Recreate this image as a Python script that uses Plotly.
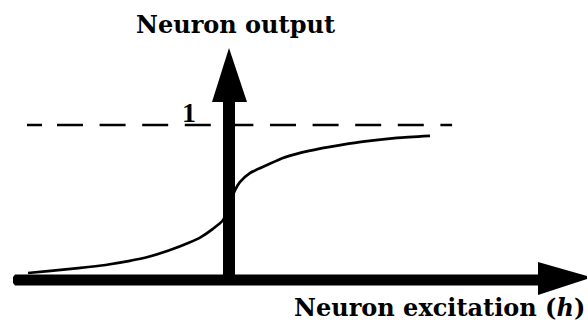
import plotly.graph_objects as go

# ---- data (h = neuron excitation, output = neuron output) ----
h_curve = [-5.0, -4.5, -4.0, -3.5, -3.0, -2.5, -2.0, -1.5, -1.0, -0.7, -0.4, -0.15,
           0.0, 0.15, 0.27, 0.52, 0.95, 1.34, 1.77, 2.26, 2.8, 3.33, 4.18, 5.0]
out_curve = [0.045, 0.057, 0.07, 0.084, 0.1, 0.122, 0.15, 0.19, 0.24, 0.277, 0.33, 0.385,
             0.48, 0.58, 0.632, 0.69, 0.742, 0.787, 0.82, 0.848, 0.872, 0.893, 0.917, 0.93]
saturation_level = [1, 1]
saturation_h = [-5.025, 5.55]
x_label = "Neuron excitation (<i>h</i>)"
y_label = "Neuron output"
level_label = "1"

W, H = 588, 329
# pixel <-> data mapping helpers (layout geometry)
X0, SX = 229.0, 40.2      # px of h=0, px per unit h
Y0, SY = 280.0, 155.0     # px of output=0, px per unit output


def hx(px):
    return (px - X0) / SX


def oy(py):
    return (Y0 - py) / SY


fig = go.Figure()

dash = "15px,15px" + ",26px,16.6px" * 10
fig.add_trace(go.Scatter(x=saturation_h, y=saturation_level, mode="lines",
                         line=dict(color="black", width=2.6, dash=dash),
                         hoverinfo="skip"))
fig.add_trace(go.Scatter(x=h_curve, y=out_curve, mode="lines",
                         line=dict(color="black", width=2.7, shape="spline", smoothing=0.6),
                         hoverinfo="skip"))


def path(pts):
    return "M " + " L ".join(f"{hx(a)},{oy(b)}" for a, b in pts) + " Z"


shapes = [
    # horizontal axis bar
    dict(type="path", path=path([(13, 277), (15, 274.5), (540, 274.5), (540, 285.5), (15, 285.5), (13, 283)]),
         fillcolor="black", line=dict(width=0)),
    # horizontal arrow head
    dict(type="path", path=path([(538, 262), (587, 276), (587, 279), (538, 295)]),
         fillcolor="black", line=dict(width=0)),
    # vertical axis shaft
    dict(type="path", path=path([(223, 100), (235, 100), (235, 282), (223, 282)]),
         fillcolor="black", line=dict(width=0)),
    # vertical arrow head
    dict(type="path", path=path([(212, 102), (229, 48), (247, 102)]),
         fillcolor="black", line=dict(width=0)),
]

annotations = [
    dict(text=f"<b>{y_label}</b>", x=235 / W, y=1 - 24 / H, xref="paper", yref="paper",
         xanchor="center", yanchor="middle", showarrow=False,
         font=dict(family="DejaVu Serif", size=24, color="black")),
    dict(text=f"<b>{x_label}</b>", x=587 / W, y=1 - 307 / H, xref="paper", yref="paper",
         xanchor="right", yanchor="middle", showarrow=False,
         font=dict(family="DejaVu Serif", size=24, color="black")),
    dict(text=f"<b>{level_label}</b>", x=189 / W, y=1 - 112 / H, xref="paper", yref="paper",
         xanchor="center", yanchor="middle", showarrow=False,
         font=dict(family="Liberation Serif", size=28, color="black")),
]

fig.update_layout(
    width=W, height=H,
    margin=dict(l=0, r=0, t=0, b=0),
    paper_bgcolor="white", plot_bgcolor="white",
    showlegend=False,
    xaxis=dict(range=[hx(0), hx(W)], visible=False, fixedrange=True),
    yaxis=dict(range=[oy(H), oy(0)], visible=False, fixedrange=True),
    shapes=shapes,
    annotations=annotations,
)

fig.write_html("out.html", config={"displayModeBar": False},
               post_script="document.body.style.margin='0';document.body.style.overflow='hidden';")
